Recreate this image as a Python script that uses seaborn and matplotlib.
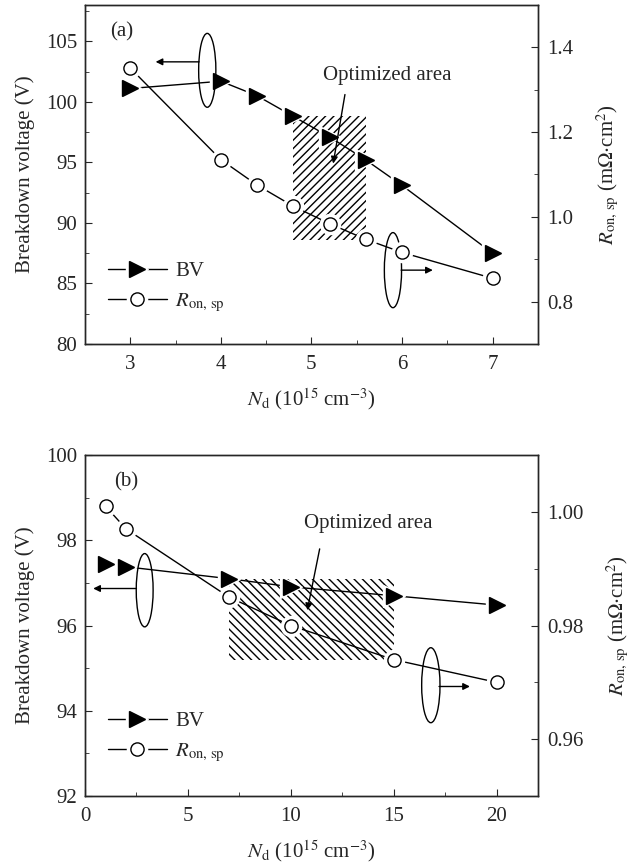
import matplotlib
matplotlib.use("Agg")
import matplotlib.pyplot as plt
import seaborn as sns
from matplotlib.lines import Line2D
from matplotlib.patches import Ellipse, Rectangle
from matplotlib.ticker import MultipleLocator

# panel (a)
nd_a = [3, 4, 4.4, 4.8, 5.2, 5.6, 6, 7]
bv_a = [101.1, 101.7, 100.5, 98.8, 97.1, 95.2, 93.1, 87.5]
ron_a = [1.351, 1.135, 1.075, 1.025, 0.984, 0.947, 0.916, 0.855]

# panel (b)
nd_b = [1, 2, 7, 10, 15, 20]
bv_b = [97.45, 97.38, 97.10, 96.91, 96.70, 96.48]
ron_b = [1.001, 0.997, 0.985, 0.980, 0.974, 0.970]

FS = 15
MS_TRI = 11
MS_CIR = 9.5

sns.set_style("ticks")
plt.rcParams["font.family"] = ["Liberation Serif", "DejaVu Serif"]
plt.rcParams["mathtext.fontset"] = "stix"
plt.rcParams["hatch.linewidth"] = 1.0
plt.rcParams["axes.linewidth"] = 1.0
plt.rcParams["patch.edgecolor"] = "k"

fig = plt.figure(figsize=(6.37, 8.65), dpi=100)


def draw_series(ax, x, y, marker, ms, filled):
    sns.lineplot(x=x, y=y, ax=ax, color="k", lw=1, zorder=2, legend=False)
    ax.plot(x, y, ls="none", marker=marker, ms=ms + 5, mfc="w", mec="w", zorder=3)
    ax.plot(x, y, ls="none", marker=marker, ms=ms, mfc="k" if filled else "w",
            mec="k", mew=1, zorder=4)


def arrow(ax, start, end):
    ax.annotate("", xy=end, xytext=start,
                arrowprops=dict(arrowstyle="-|>", color="k", lw=1,
                                mutation_scale=10, shrinkA=0, shrinkB=0))


def style_axes(ax, ax2, xminor, yminor, rminor):
    ax.tick_params(which="both", direction="in", top=False, right=False, labelsize=FS)
    ax.tick_params(axis="x", which="both", pad=8)
    ax.tick_params(axis="y", which="both", pad=5.5)
    ax.tick_params(which="major", length=5)
    ax.tick_params(which="minor", length=3)
    ax2.tick_params(which="both", direction="in", labelsize=FS, pad=7)
    ax2.tick_params(which="major", length=5)
    ax2.tick_params(which="minor", length=3)
    ax.xaxis.set_minor_locator(MultipleLocator(xminor))
    ax.yaxis.set_minor_locator(MultipleLocator(yminor))
    ax2.yaxis.set_minor_locator(MultipleLocator(rminor))
    ax.set_xlabel(r"$N_\mathrm{d}$ (10$^{15}$ cm$^{-3}$)", fontsize=FS, labelpad=9)
    ax.set_ylabel("Breakdown voltage (V)", fontsize=FS, labelpad=8)
    ax2.set_ylabel(r"$R_\mathrm{on,\,sp}$ (m$\Omega$$\cdot$cm$^2$)", fontsize=FS,
                   rotation=90, labelpad=15)


def legend(ax, anchor):
    h_bv = (Line2D([], [], color="k", lw=1, marker=">", ms=MS_TRI + 5, mfc="w", mec="w"),
            Line2D([], [], ls="none", marker=">", ms=MS_TRI, mfc="k", mec="k"))
    h_ron = (Line2D([], [], color="k", lw=1, marker="o", ms=MS_CIR + 5, mfc="w", mec="w"),
             Line2D([], [], ls="none", marker="o", ms=MS_CIR, mfc="w", mec="k"))
    ax.legend([h_bv, h_ron], ["BV", r"$R_\mathrm{on,\,sp}$"], loc="lower left",
              bbox_to_anchor=anchor, frameon=False, fontsize=FS, handlelength=2.8,
              handletextpad=0.4, labelspacing=0.5, borderaxespad=0)


# ---- (a)
ax = fig.add_axes([0.1334, 0.6023, 0.711, 0.392])
ax2 = ax.twinx()
ax.set_xlim(2.5, 7.5)
ax.set_ylim(80, 108)
ax2.set_ylim(0.7, 1.5)
ax.set_xticks([3, 4, 5, 6, 7])
ax.set_yticks([80, 85, 90, 95, 100, 105])
ax2.set_yticks([0.8, 1.0, 1.2, 1.4])
ax2.set_yticklabels(["0.8", "1.0", "1.2", "1.4"])
ax.add_patch(Rectangle((4.8, 88.6), 0.8, 10.25, fill=False, hatch="////",
                       edgecolor="k", lw=0, zorder=1.5))
draw_series(ax, nd_a, bv_a, ">", MS_TRI, True)
draw_series(ax2, nd_a, ron_a, "o", MS_CIR, False)
ax.add_patch(Ellipse((3.85, 102.6), 0.19, 6.1, fill=False, edgecolor="k", lw=1, zorder=5))
ax.add_patch(Ellipse((5.9, 86.1), 0.19, 6.2, fill=False, edgecolor="k", lw=1, zorder=5))
arrow(ax, (3.76, 103.3), (3.28, 103.3))
arrow(ax, (5.99, 86.1), (6.34, 86.1))
ax.text(5.84, 102.2, "Optimized area", fontsize=FS, ha="center", va="center")
arrow(ax, (5.37, 100.6), (5.24, 94.9))
ax.text(2.9, 105.8, "(a)", fontsize=FS, ha="center", va="center")
style_axes(ax, ax2, 0.5, 2.5, 0.1)
legend(ax2, (0.033, 0.065))

# ---- (b)
bx = fig.add_axes([0.1334, 0.0798, 0.711, 0.394])
bx2 = bx.twinx()
bx.set_xlim(0, 22)
bx.set_ylim(92, 100)
bx2.set_ylim(0.95, 1.01)
bx.set_xticks([0, 5, 10, 15, 20])
bx.set_yticks([92, 94, 96, 98, 100])
bx2.set_yticks([0.96, 0.98, 1.00])
bx2.set_yticklabels(["0.96", "0.98", "1.00"])
bx.add_patch(Rectangle((7, 95.2), 8, 1.9, fill=False, hatch="\\\\\\\\",
                       edgecolor="k", lw=0, zorder=1.5))
draw_series(bx, nd_b, bv_b, ">", MS_TRI, True)
draw_series(bx2, nd_b, ron_b, "o", MS_CIR, False)
bx.add_patch(Ellipse((2.9, 96.83), 0.82, 1.72, fill=False, edgecolor="k", lw=1, zorder=5))
bx.add_patch(Ellipse((16.8, 94.6), 0.89, 1.76, fill=False, edgecolor="k", lw=1, zorder=5))
arrow(bx, (2.5, 96.87), (0.4, 96.87))
arrow(bx, (17.2, 94.57), (18.7, 94.57))
bx.text(13.75, 98.4, "Optimized area", fontsize=FS, ha="center", va="center")
arrow(bx, (11.4, 97.8), (10.8, 96.36))
bx.text(2.0, 99.37, "(b)", fontsize=FS, ha="center", va="center")
style_axes(bx, bx2, 2.5, 1, 0.01)
legend(bx2, (0.033, 0.07))

fig.savefig("out.png", dpi=100)
